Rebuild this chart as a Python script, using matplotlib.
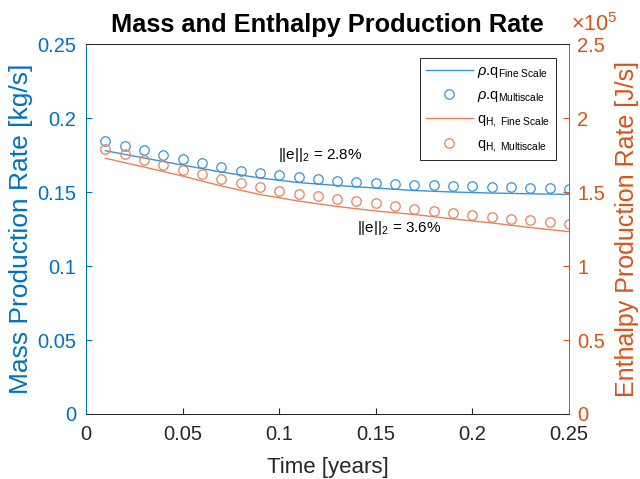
import numpy as np
import matplotlib
matplotlib.use("Agg")
import matplotlib.pyplot as plt
from matplotlib.ticker import FuncFormatter

plt.rcParams['font.family'] = ['Liberation Sans', 'DejaVu Sans']
plt.rcParams['mathtext.fontset'] = 'custom'
plt.rcParams['mathtext.rm'] = 'Liberation Sans'
plt.rcParams['mathtext.it'] = 'Liberation Sans:italic'

# ==========================================
# data
# ==========================================
t_multi = [0.01, 0.02, 0.03, 0.04, 0.05, 0.06, 0.07, 0.08, 0.09, 0.10, 0.11, 0.12, 0.13,
           0.14, 0.15, 0.16, 0.17, 0.18, 0.19, 0.20, 0.21, 0.22, 0.23, 0.24, 0.25]
mass_multi = [0.1845, 0.1813, 0.1782, 0.1752, 0.1721, 0.1694, 0.1667, 0.1644, 0.1626, 0.1612,
              0.1600, 0.1588, 0.1577, 0.1568, 0.1559, 0.1554, 0.1547, 0.1545, 0.1543, 0.1539,
              0.1536, 0.1532, 0.1527, 0.1525, 0.1520]
enth_multi = [1.791e5, 1.755e5, 1.718e5, 1.682e5, 1.649e5, 1.620e5, 1.586e5, 1.559e5, 1.532e5,
              1.509e5, 1.486e5, 1.473e5, 1.455e5, 1.437e5, 1.424e5, 1.408e5, 1.385e5, 1.370e5,
              1.356e5, 1.345e5, 1.333e5, 1.320e5, 1.309e5, 1.295e5, 1.284e5]

t_fine = [0.01, 0.03, 0.05, 0.07, 0.09, 0.11, 0.13, 0.15, 0.17, 0.19, 0.21, 0.23, 0.25]
mass_fine = [0.1779, 0.1730, 0.1682, 0.1635, 0.1595, 0.1564, 0.1544, 0.1527, 0.1510,
             0.1500, 0.1493, 0.1488, 0.1484]
enth_fine = [1.728e5, 1.669e5, 1.608e5, 1.541e5, 1.483e5, 1.439e5, 1.402e5, 1.372e5,
             1.348e5, 1.318e5, 1.291e5, 1.260e5, 1.232e5]

x_ticks = [0, 0.05, 0.1, 0.15, 0.2, 0.25]
mass_ticks = [0, 0.05, 0.1, 0.15, 0.2, 0.25]
enth_ticks = [0, 0.5e5, 1e5, 1.5e5, 2e5, 2.5e5]

c_blue = '#0072BD'
c_orange = '#D95319'
c_blue_mark = '#3A93D8'
c_orange_mark = '#E8825A'
c_dark = '#262626'

# ==========================================
# plot
# ==========================================
fig = plt.figure(figsize=(6.4, 4.79), dpi=100)
ax1 = fig.add_axes([0.1344, 0.1357, 0.7546, 0.7724])
ax2 = ax1.twinx()

l1, = ax1.plot(t_fine, mass_fine, color=c_blue_mark, lw=1.0, label=r'$\rho$.q$_{\mathrm{Fine\ Scale}}$')
l2, = ax1.plot(t_multi, mass_multi, 'o', color=c_blue_mark, mfc='none', ms=6.8, mew=0.9,
               label=r'$\rho$.q$_{\mathrm{Multiscale}}$')
l3, = ax2.plot(t_fine, enth_fine, color=c_orange_mark, lw=1.0, label=r'q$_{\mathrm{H,\ Fine\ Scale}}$')
l4, = ax2.plot(t_multi, enth_multi, 'o', color=c_orange_mark, mfc='none', ms=6.8, mew=0.9,
               label=r'q$_{\mathrm{H,\ Multiscale}}$')

ax1.set_xlim(0, 0.25)
ax1.set_ylim(0, 0.25)
ax2.set_ylim(0, 2.5e5)
ax1.set_xticks(x_ticks)
ax1.set_yticks(mass_ticks)
ax2.set_yticks(enth_ticks)
ax1.xaxis.set_major_formatter(FuncFormatter(lambda v, p: '%g' % v))
ax1.yaxis.set_major_formatter(FuncFormatter(lambda v, p: '%g' % v))
ax2.yaxis.set_major_formatter(FuncFormatter(lambda v, p: '%g' % (v / 1e5)))

ax1.tick_params(axis='x', direction='in', length=4, labelsize=14.5, colors=c_dark, pad=8)
ax1.tick_params(axis='y', direction='in', length=4, labelsize=14.5, colors=c_blue, pad=7)
ax2.tick_params(axis='y', direction='in', length=4, labelsize=14.5, colors=c_orange, pad=6)

for ax in (ax1, ax2):
    ax.spines['top'].set_color(c_dark)
    ax.spines['bottom'].set_color(c_dark)
    ax.spines['left'].set_color(c_blue)
    ax.spines['right'].set_color(c_orange)
    for s in ax.spines.values():
        s.set_linewidth(0.7)

ax1.set_xlabel('Time [years]', fontsize=16, color=c_dark, labelpad=9)
ax1.set_ylabel('Mass Production Rate [kg/s]', fontsize=19, color=c_blue, labelpad=3)
ax2.set_ylabel('Enthalpy Production Rate [J/s]', fontsize=18, color=c_orange, labelpad=7)
ax1.set_title('Mass and Enthalpy Production Rate', fontsize=18.3, fontweight='bold', pad=9)

ax2.text(1.005, 1.022, r'$\times 10^5$', transform=ax2.transAxes, color=c_orange,
         fontsize=15.5, ha='left', va='bottom')

ax1.text(0.0994, 0.175, r'||e||$_2$ = 2.8%', fontsize=11, color='black', va='center')
ax1.text(0.1403, 0.1257, r'||e||$_2$ = 3.6%', fontsize=11, color='black', va='center')

leg = ax2.legend(handles=[l1, l2, l3, l4], loc='upper right', bbox_to_anchor=(0.9725, 0.962),
                 borderaxespad=0, fontsize=10.5, fancybox=False, edgecolor=c_dark,
                 framealpha=1, handlelength=3.2, handletextpad=0.3, labelspacing=0.55)
leg.get_frame().set_linewidth(0.7)

fig.savefig('out.png', dpi=100)
